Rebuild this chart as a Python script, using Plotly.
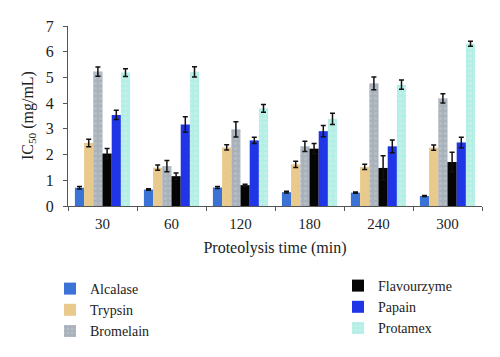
import plotly.graph_objects as go

categories = ["30", "60", "120", "180", "240", "300"]

alcalase = [0.71, 0.64, 0.72, 0.54, 0.52, 0.39]
alcalase_err = [0.05, 0.03, 0.04, 0.03, 0.02, 0.02]
trypsin = [2.45, 1.49, 2.28, 1.62, 1.52, 2.27]
trypsin_err = [0.15, 0.10, 0.10, 0.12, 0.10, 0.10]
bromelain = [5.23, 1.55, 2.98, 2.32, 4.77, 4.19]
bromelain_err = [0.18, 0.22, 0.30, 0.20, 0.25, 0.18]
flavourzyme = [2.04, 1.16, 0.81, 2.23, 1.48, 1.71]
flavourzyme_err = [0.20, 0.12, 0.04, 0.20, 0.47, 0.38]
papain = [3.54, 3.17, 2.55, 2.91, 2.32, 2.47]
papain_err = [0.18, 0.30, 0.12, 0.22, 0.25, 0.20]
protamex = [5.19, 5.22, 3.80, 3.39, 4.72, 6.31]
protamex_err = [0.15, 0.20, 0.15, 0.22, 0.18, 0.10]

y_ticks = [0, 1, 2, 3, 4, 5, 6, 7]

series = [
    ("Alcalase", alcalase, alcalase_err, "#3a72d6", None, "legend"),
    ("Trypsin", trypsin, trypsin_err, "#e9c98c", None, "legend"),
    ("Bromelain", bromelain, bromelain_err, "#a9b2ba", ".", "legend"),
    ("Flavourzyme", flavourzyme, flavourzyme_err, "#050505", None, "legend2"),
    ("Papain", papain, papain_err, "#1f35e6", None, "legend2"),
    ("Protamex", protamex, protamex_err, "#b2f0e6", ".", "legend2"),
]

FONT = "Liberation Serif"
TXT = "#222222"

fig = go.Figure()
for name, vals, errs, color, pat, leg in series:
    marker = dict(color=color, line=dict(width=0))
    if pat:
        marker["pattern"] = dict(shape=pat, fgcolor="#dcebea" if name == "Protamex" else "#c4cad0",
                                 size=5, solidity=0.3)
    fig.add_trace(go.Bar(
        name=name, x=categories, y=vals,
        error_y=dict(type="data", array=errs, visible=True, color="#111111",
                     thickness=1.5, width=2.5),
        marker=marker, legend=leg,
    ))

legend_common = dict(xanchor="left", yanchor="top", xref="container", yref="container",
                     font=dict(family=FONT, size=14, color=TXT),
                     tracegroupgap=0, itemwidth=30, bgcolor="rgba(0,0,0,0)")

fig.update_layout(
    width=500, height=357,
    margin=dict(l=68, r=18, t=26, b=151, autoexpand=False),
    paper_bgcolor="white", plot_bgcolor="white",
    barmode="group", bargap=0.2, bargroupgap=0,
    font=dict(family=FONT, size=15, color=TXT),
    showlegend=True,
    legend=dict(x=0.10, y=1 - 273 / 357, **legend_common),
    legend2=dict(x=0.676, y=1 - 270 / 357, **legend_common),
    annotations=[dict(
        text="IC<sub>50</sub> (mg/mL)", textangle=-90,
        xref="paper", yref="paper", x=(28 - 68) / 414, y=0.5,
        xanchor="center", yanchor="middle", showarrow=False,
        font=dict(family=FONT, size=16, color=TXT),
    )],
)

fig.update_xaxes(
    type="category", showline=True, linecolor="#555555", linewidth=1,
    ticks="outside", tickson="boundaries", ticklen=4, tickcolor="#555555",
    showgrid=False, tickfont=dict(family=FONT, size=15, color=TXT),
    ticklabelstandoff=4,
    title=dict(text="Proteolysis time (min)", standoff=10,
               font=dict(family=FONT, size=16, color=TXT)),
)
fig.update_yaxes(
    range=[0, 7], tickvals=y_ticks, showline=True, linecolor="#555555", linewidth=1,
    ticks="outside", ticklen=4, tickcolor="#555555", showgrid=False, zeroline=False,
    tickfont=dict(family=FONT, size=16, color=TXT),
    ticklabelstandoff=6, ticklabeloverflow="allow",
)

fig.write_html("out.html", config={"displayModeBar": False},
               post_script="document.body.style.margin='0';")
